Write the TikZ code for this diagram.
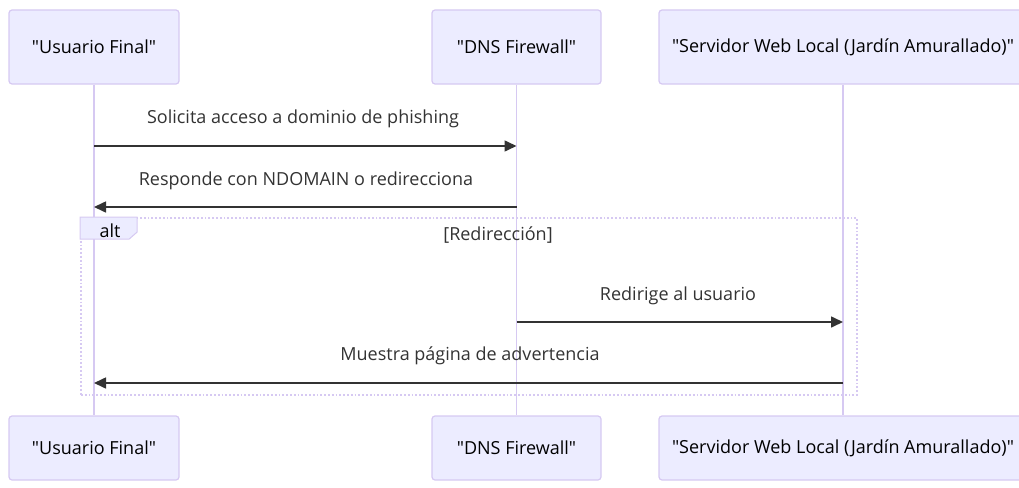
\documentclass[tikz,border=0pt]{standalone}
\usepackage{fontspec}
\setmainfont{Open Sans}
\newfontfamily\plainos{Open Sans}
\usetikzlibrary{arrows.meta}
\definecolor{actfill}{HTML}{ECECFF}
\definecolor{actline}{HTML}{D6C9F2}
\definecolor{ink}{HTML}{333333}
\tikzset{
  actor/.style={draw=actline, fill=actfill, line width=1.2pt, rounded corners=3pt, minimum height=74pt, inner sep=0pt, font=\plainos\fontsize{18}{21}\selectfont, text=black},
  lifeline/.style={draw=actline, line width=1.8pt},
  msg/.style={draw=ink, line width=1.6pt, -{Triangle[length=12pt,width=11pt]}},
  msglabel/.style={font=\fontsize{18}{21}\selectfont, text=ink, inner sep=0pt},
  altframe/.style={draw=actline, line width=1.8pt, dotted, inner sep=0pt},
  alttab/.style={draw=actline, fill=actfill, line width=1pt},
}
\begin{document}
\begin{tikzpicture}[x=1pt,y=-1pt]
\useasboundingbox (0,0) rectangle (1019,487);
\clip (0,0) rectangle (1019,487);
% actors
\node[actor, minimum width=170pt] (u1) at (94,47) {"Usuario Final"};
\node[actor, minimum width=169pt] (d1) at (516.5,47) {"DNS Firewall"};
\node[actor, minimum width=368pt] (s1) at (843,47) {"Servidor Web Local (Jardín Amurallado)"};
\node[actor, minimum width=170pt, minimum height=64pt] (u2) at (94,448) {"Usuario Final"};
\node[actor, minimum width=169pt, minimum height=64pt] (d2) at (516.5,448) {"DNS Firewall"};
\node[actor, minimum width=368pt, minimum height=64pt] (s2) at (843,448) {"Servidor Web Local (Jardín Amurallado)"};
% lifelines
\draw[lifeline] (u1.south) -- (u2.north);
\draw[lifeline] (d1.south) -- (d2.north);
\draw[lifeline] (s1.south) -- (s2.north);
% alt frame
\node[altframe, minimum width=776pt, minimum height=177pt] (altbox) at (469,306.5) {};
\draw[alttab] (altbox.north west) -- ++(57,0) -- ++(0,15) -- ++(-8,7) -- ++(-49,0) -- cycle;
\node[msglabel, text=black] (alttxt) at (110,231) {alt};
\node[msglabel] (cond) at (498,235) {[Redirección]};
% message rows
\coordinate (y1) at (0,146);
\coordinate (y2) at (0,207);
\coordinate (y3) at (0,322);
\coordinate (y4) at (0,383);
\draw[msg] (u1 |- y1) -- (d1 |- y1);
\node[msglabel] (l1) at (303,119) {Solicita acceso a dominio de phishing};
\draw[msg] (d1 |- y2) -- (u1 |- y2);
\node[msglabel] (l2) at (306,181) {Responde con NDOMAIN o redirecciona};
\draw[msg] (d1 |- y3) -- (s1 |- y3);
\node[msglabel] (l3) at (678,296) {Redirige al usuario};
\draw[msg] (s1 |- y4) -- (u1 |- y4);
\node[msglabel] (l4) at (470,356) {Muestra página de advertencia};
\end{tikzpicture}
\end{document}
